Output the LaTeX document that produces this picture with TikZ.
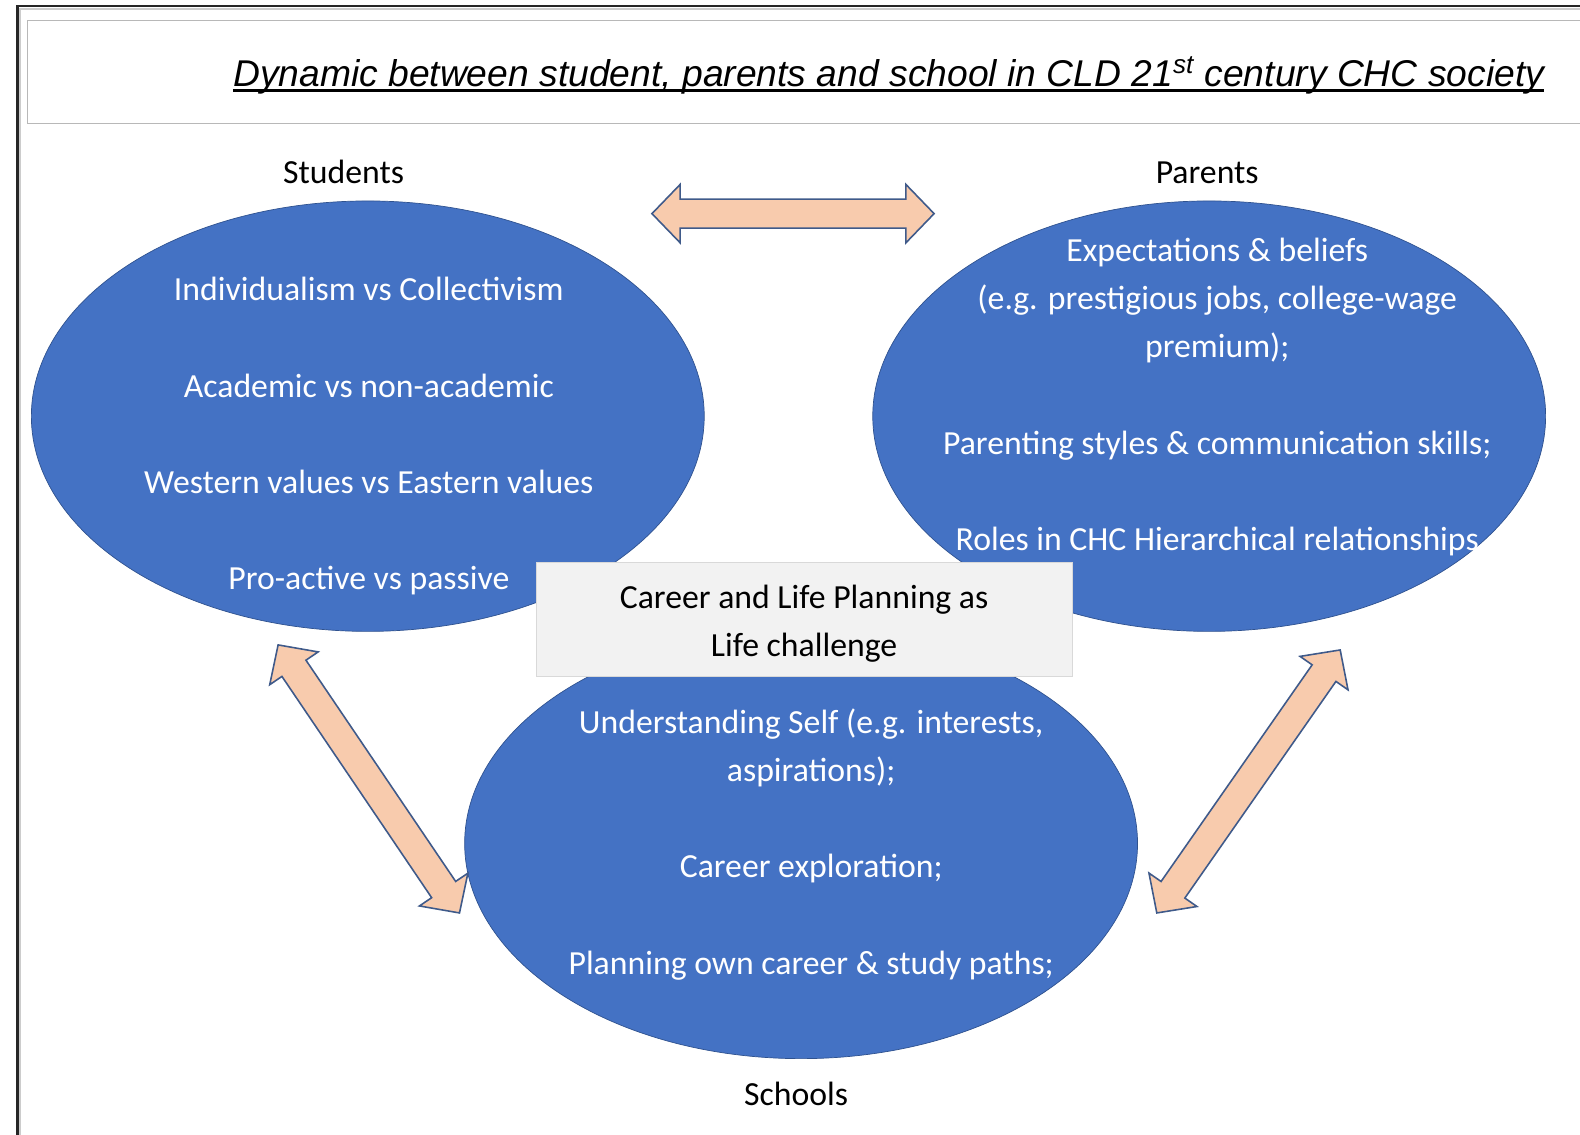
\documentclass[tikz,border=0pt]{standalone}
\usepackage{fontspec}
\setmainfont{Carlito}
\newfontfamily\titlefont{Liberation Sans}
\usetikzlibrary{shapes.geometric,calc}

\definecolor{ovalblue}{HTML}{4472C4}
\definecolor{ovalline}{HTML}{2F528F}
\definecolor{arrowfill}{HTML}{F8CBAD}
\definecolor{arrowline}{HTML}{3F5A8A}
\definecolor{boxfill}{HTML}{F2F2F2}

\tikzset{
  oval/.style={ellipse, fill=ovalblue, draw=ovalline, line width=0.4pt,
    minimum width=13.46cm, minimum height=8.61cm, inner sep=0pt},
  ovaltext/.style={text=white, align=center, font=\fontsize{19.2}{27.4}\selectfont},
  party/.style={font=\fontsize{19.2}{27.4}\selectfont},
  blockarrow/.style={fill=arrowfill, draw=arrowline, line width=0.9pt, line join=miter},
  centrebox/.style={fill=boxfill, draw=black!15, line width=0.6pt,
    minimum width=10.72cm, minimum height=2.28cm},
  centretext/.style={align=center, font=\fontsize{19.2}{27.4}\selectfont}
}

% block arrow with two heads between two named points
\newcommand\arrowhl{0.565cm}
\newcommand\arrowhw{0.585cm}
\newcommand\arrowsw{0.29cm}
\newcommand\blockarrow[2]{%
  \draw[blockarrow] (#1)
    -- ($(#1)!\arrowhl!(#2)!\arrowhw!90:(#2)$)
    -- ($(#1)!\arrowhl!(#2)!\arrowsw!90:(#2)$)
    -- ($(#2)!\arrowhl!(#1)!\arrowsw!-90:(#1)$)
    -- ($(#2)!\arrowhl!(#1)!\arrowhw!-90:(#1)$)
    -- (#2)
    -- ($(#2)!\arrowhl!(#1)!\arrowhw!90:(#1)$)
    -- ($(#2)!\arrowhl!(#1)!\arrowsw!90:(#1)$)
    -- ($(#1)!\arrowhl!(#2)!\arrowsw!-90:(#2)$)
    -- ($(#1)!\arrowhl!(#2)!\arrowhw!-90:(#2)$)
    -- cycle;}

\begin{document}
\begin{tikzpicture}[x=0.020153cm,y=-0.020153cm]
    \useasboundingbox (0,0) rectangle (1568,1126);

    % frame
    \draw[black!20, line width=0.8pt] (20,1140) -- (20,9) -- (1590,9);
    \draw[black!85, line width=1.6pt] (17,1140) -- (17,6) -- (1590,6);

    % title
    \draw[black!28, line width=0.6pt] (1590,20) -- (27,20) -- (27,123) -- (1590,123);
    \node[anchor=base west, inner sep=0pt, font=\titlefont\itshape\fontsize{21.2}{25}\selectfont]
        (title) at (231,86)
        {Dynamic between student, parents and school in CLD 21\textsuperscript{st} century CHC society};
    \draw[line width=1.5pt] ($(title.base west)+(0,4)$) -- ($(title.base east)+(0,4)$);

    % ovals
    \node[oval] (students) at (365,413) {};
    \node[oval] (parents) at (1200,413) {};
    \node[oval] (schools) at (795,837) {};

    % party names
    \node[party] (stulabel) at (341,171) {Students};
    \node[party] (parlabel) at (1198,171) {Parents};
    \node[party] (schlabel) at (790,1086) {Schools};

    % oval texts
    \node[ovaltext] (stutext) at (366,433) {Individualism vs Collectivism\\[27.4pt]
        Academic vs non-academic\\[27.4pt]
        Western values vs Eastern values\\[27.4pt]
        Pro-active vs passive};
    \node[ovaltext] (partext) at (1208,394) {Expectations \& beliefs\\
        (e.g. prestigious jobs, college-wage\\
        premium);\\[27.4pt]
        Parenting styles \& communication skills;\\[27.4pt]
        Roles in CHC Hierarchical relationships};
    \node[ovaltext] (schtext) at (805,838) {Understanding Self (e.g. interests,\\
        aspirations);\\[27.4pt]
        Career exploration;\\[27.4pt]
        Planning own career \& study paths;};

    % centre
    \node[centrebox] (challenge) at (798,614.5) {};
    \node[centretext] (challengetext) at (798,619) {Career and Life Planning as\\Life challenge};

    % arrows
    \coordinate (sp1) at (647,212);
    \coordinate (sp2) at (927,212);
    \coordinate (ss1) at (276,640);
    \coordinate (ss2) at (456,906);
    \coordinate (ps1) at (1330,645);
    \coordinate (ps2) at (1148,906);
    \blockarrow{sp1}{sp2}
    \blockarrow{ss1}{ss2}
    \blockarrow{ps1}{ps2}
\end{tikzpicture}
\end{document}
